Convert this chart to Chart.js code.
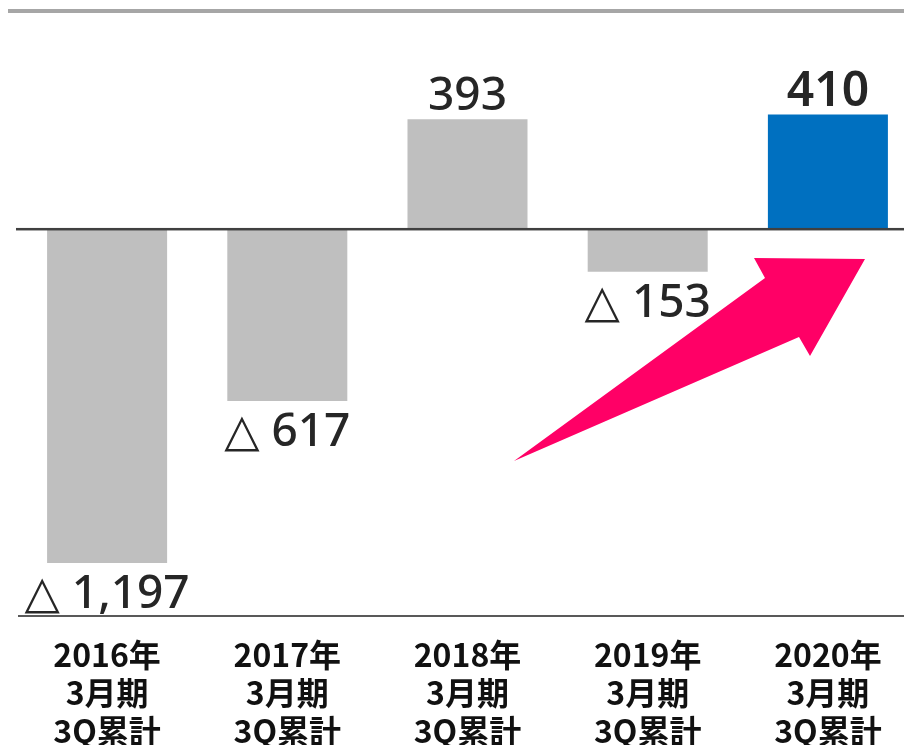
<!DOCTYPE html>
<html>
<head>
<meta charset="utf-8">
<script src="https://cdn.jsdelivr.net/npm/chart.js@4/dist/chart.umd.min.js"></script>
<style>
  html, body { margin: 0; padding: 0; background: #fff; overflow: hidden; }
  #wrap { width: 904px; height: 745px; overflow: hidden; position: relative; }
  canvas { display: block; }
</style>
</head>
<body>
<div id="wrap"><canvas id="c" width="920" height="745"></canvas></div>
<script>
const categories = [
  ["2016年", "3月期", "3Q累計"],
  ["2017年", "3月期", "3Q累計"],
  ["2018年", "3月期", "3Q累計"],
  ["2019年", "3月期", "3Q累計"],
  ["2020年", "3月期", "3Q累計"]
];
const values = [-1197, -617, 393, -153, 410];
const valueLabels = ["△ 1,197", "△ 617", "393", "△ 153", "410"];
const barColors = ["#BFBFBF", "#BFBFBF", "#BFBFBF", "#BFBFBF", "#0070C0"];

const NUM_FONT = '"Noto Sans", "DejaVu Sans", "Noto Sans CJK JP", sans-serif';

const decorPlugin = {
  id: 'decor',
  beforeDatasetsDraw(chart) {
    const ctx = chart.ctx;
    const y = chart.scales.y;
    const ca = chart.chartArea;
    ctx.save();
    ctx.fillStyle = '#A6A6A6';
    ctx.fillRect(ca.left - 9, y.getPixelForValue(y.max) - 2, 920, 4);
    ctx.fillStyle = '#595959';
    ctx.fillRect(ca.left + 1, y.getPixelForValue(y.min) - 1, 920, 2);
    ctx.restore();
  },
  afterDatasetsDraw(chart) {
    const ctx = chart.ctx;
    const y = chart.scales.y;
    const ca = chart.chartArea;
    const meta = chart.getDatasetMeta(0);
    ctx.save();
    ctx.fillStyle = '#404040';
    ctx.fillRect(ca.left - 1, y.getPixelForValue(0) - 1, 920, 2.5);

    ctx.textAlign = 'center';
    ctx.textBaseline = 'alphabetic';
    ctx.fillStyle = '#262626';
    meta.data.forEach((bar, i) => {
      const v = values[i];
      const last = i === values.length - 1;
      ctx.font = (last ? '600 48px ' : '500 46px ') + NUM_FONT;
      if (v >= 0) {
        ctx.fillText(valueLabels[i], bar.x, bar.y - 9);
      } else {
        ctx.fillText(valueLabels[i], bar.x, bar.y + 45);
      }
    });

    // decorative arrow
    ctx.fillStyle = '#FF0066';
    ctx.beginPath();
    ctx.moveTo(514, 461);
    ctx.lineTo(765, 278);
    ctx.lineTo(754, 258);
    ctx.lineTo(865, 259);
    ctx.lineTo(810, 356);
    ctx.lineTo(799, 337);
    ctx.closePath();
    ctx.fill();
    ctx.restore();
  }
};

new Chart(document.getElementById('c'), {
  type: 'bar',
  data: {
    labels: categories,
    datasets: [{
      data: values,
      backgroundColor: barColors,
      borderWidth: 0,
      barPercentage: 0.666,
      categoryPercentage: 1.0
    }]
  },
  options: {
    responsive: false,
    animation: false,
    devicePixelRatio: 1,
    layout: { padding: { top: 11, left: 17, right: 2, bottom: 0 } },
    plugins: { legend: { display: false }, tooltip: { enabled: false } },
    scales: {
      x: {
        grid: { display: false, drawTicks: false },
        border: { display: false },
        ticks: {
          color: '#111111',
          padding: 20,
          maxRotation: 0,
          autoSkip: false,
          font: { family: '"Noto Sans CJK JP", sans-serif', size: 32, weight: '700', lineHeight: 38 / 32 }
        },
        afterFit(scale) { scale.height = 129; }
      },
      y: {
        display: false,
        min: -1387,
        max: 781
      }
    }
  },
  plugins: [decorPlugin]
});
</script>
</body>
</html>
